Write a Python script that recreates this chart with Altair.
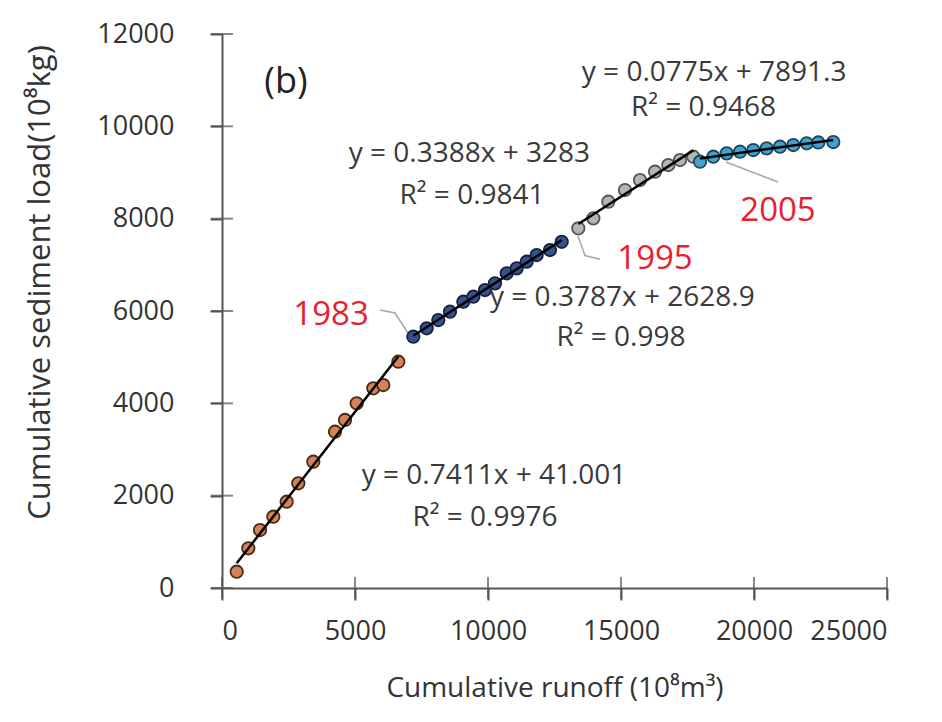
import altair as alt
import pandas as pd

FONT = "Open Sans"

# Segment data (cumulative runoff, cumulative sediment load)
seg1_x = [553, 989, 1429, 1929, 2432, 2868, 3432, 4248, 4624, 5064, 5688, 6064, 6628]
seg1_y = [353, 860, 1256, 1544, 1869, 2268, 2735, 3385, 3639, 4000, 4325, 4397, 4901]
seg2_x = [7192, 7695, 8132, 8571, 9073, 9449, 9887, 10263, 10703, 11079, 11455, 11830, 12331, 12771]
seg2_y = [5443, 5625, 5805, 5985, 6201, 6309, 6454, 6599, 6816, 6924, 7067, 7212, 7321, 7500]
seg3_x = [13395, 13959, 14523, 15150, 15714, 16278, 16778, 17218, 17718]
seg3_y = [7791, 8007, 8367, 8620, 8837, 9017, 9162, 9270, 9342]
seg4_x = [17970, 18470, 18973, 19474, 19973, 20477, 20977, 21477, 21981, 22417, 22981]
seg4_y = [9233, 9342, 9415, 9450, 9487, 9523, 9558, 9595, 9632, 9650, 9660]

segments = ["s1", "s2", "s3", "s4"]
fills = ["#d5825a", "#35528c", "#b5b5b5", "#42a2cc"]
strokes = ["#4a2a14", "#16223f", "#555555", "#1d4660"]

# Annotation texts
eq_text = ["y = 0.0775x + 7891.3", "R\u00b2 = 0.9468",
           "y = 0.3388x + 3283", "R\u00b2 = 0.9841",
           "y = 0.3787x + 2628.9", "R\u00b2 = 0.998",
           "y = 0.7411x + 41.001", "R\u00b2 = 0.9976"]
eq_x = [18500, 18100, 9300, 9400, 15050, 15000, 10226, 9887]
eq_y = [11150, 10400, 9400, 8500, 6280, 5415, 2420, 1520]

year_text = ["1983", "1995", "2005"]
year_x = [4098, 16278, 20902]
year_y = [5913, 7130, 8165]

panel_text = ["(b)"]
panel_x = [2406]
panel_y = [10960]

# Leader lines from year labels to points
lead_id = ["a", "a", "a", "b", "b", "b", "c", "c"]
lead_x = [5940, 6504, 6992, 13383, 13647, 14211, 18947, 20902]
lead_y = [6021, 5956, 5523, 7624, 7200, 7120, 9227, 8794]

x_ticks = [0, 5000, 10000, 15000, 20000, 25000]
y_ticks = [0, 2000, 4000, 6000, 8000, 10000, 12000]

rows = []
for s, xs_, ys_ in zip(segments, [seg1_x, seg2_x, seg3_x, seg4_x], [seg1_y, seg2_y, seg3_y, seg4_y]):
    for a, b in zip(xs_, ys_):
        rows.append({"seg": s, "x": a, "y": b})
df = pd.DataFrame(rows)

xs = alt.Scale(domain=[0, 25000], nice=False, zero=False)
ys = alt.Scale(domain=[0, 12000], nice=False, zero=False)

base = alt.Chart(df)

points = base.mark_circle(size=155, opacity=1, strokeWidth=1.8).encode(
    x=alt.X("x:Q", scale=xs, axis=alt.Axis(
        values=x_ticks, format="d", title="Cumulative runoff (10\u2078m\u00b3)",
        labelPadding=18, titlePadding=30)),
    y=alt.Y("y:Q", scale=ys, axis=alt.Axis(
        values=y_ticks, format="d", title="Cumulative sediment load(10\u2078kg)",
        labelPadding=36, titlePadding=40, titleFontSize=31, titleY=248)),
    fill=alt.Fill("seg:N", scale=alt.Scale(domain=segments, range=fills), legend=None),
    stroke=alt.Stroke("seg:N", scale=alt.Scale(domain=segments, range=strokes), legend=None),
)

trend = base.transform_regression("x", "y", groupby=["seg"]).mark_line(
    color="black", strokeWidth=2.5).encode(
    x=alt.X("x:Q", scale=xs), y=alt.Y("y:Q", scale=ys), detail="seg:N")

lead_df = pd.DataFrame({"id": lead_id, "x": lead_x, "y": lead_y})
leaders = alt.Chart(lead_df).mark_line(color="#a8a8a8", strokeWidth=1.5).encode(
    x=alt.X("x:Q", scale=xs), y=alt.Y("y:Q", scale=ys), detail="id:N")

eq_df = pd.DataFrame({"t": eq_text, "x": eq_x, "y": eq_y})
eqs = alt.Chart(eq_df).mark_text(font=FONT, fontSize=28, color="#3a3a3a").encode(
    x=alt.X("x:Q", scale=xs), y=alt.Y("y:Q", scale=ys), text="t:N")

yr_df = pd.DataFrame({"t": year_text, "x": year_x, "y": year_y})
yrs = alt.Chart(yr_df).mark_text(font=FONT, fontSize=33, color="#e8202e").encode(
    x=alt.X("x:Q", scale=xs), y=alt.Y("y:Q", scale=ys), text="t:N")

pn_df = pd.DataFrame({"t": panel_text, "x": panel_x, "y": panel_y})
pnl = alt.Chart(pn_df).mark_text(font=FONT, fontSize=36, color="#222222").encode(
    x=alt.X("x:Q", scale=xs), y=alt.Y("y:Q", scale=ys), text="t:N")

xt_df = pd.DataFrame({"v": x_ticks})
xcross = alt.Chart(xt_df).mark_tick(size=22, thickness=2, color="#555555").encode(
    x=alt.X("v:Q", scale=xs), y=alt.value(554))
yt_df = pd.DataFrame({"v": y_ticks})
ycross = alt.Chart(yt_df).mark_tick(size=22, thickness=2, color="#555555").encode(
    y=alt.Y("v:Q", scale=ys), x=alt.value(0))

chart = alt.layer(leaders, points, trend, xcross, ycross, eqs, yrs, pnl).properties(
    width=665, height=554,
    background="white",
    autosize=alt.AutoSizeParams(type="none"),
    padding={"left": 222, "top": 34, "right": 55, "bottom": 134},
).configure_view(stroke=None).configure_axis(
    grid=False, domainColor="#555555", domainWidth=2,
    ticks=True, tickSize=12, tickWidth=2, tickColor="#555555",
    labelFont=FONT, labelFontSize=27, labelColor="#333333",
    titleFont=FONT, titleFontSize=28, titleFontWeight="normal", titleColor="#333333",
)

chart.save("out.html", embed_options={"renderer": "svg", "actions": False})
